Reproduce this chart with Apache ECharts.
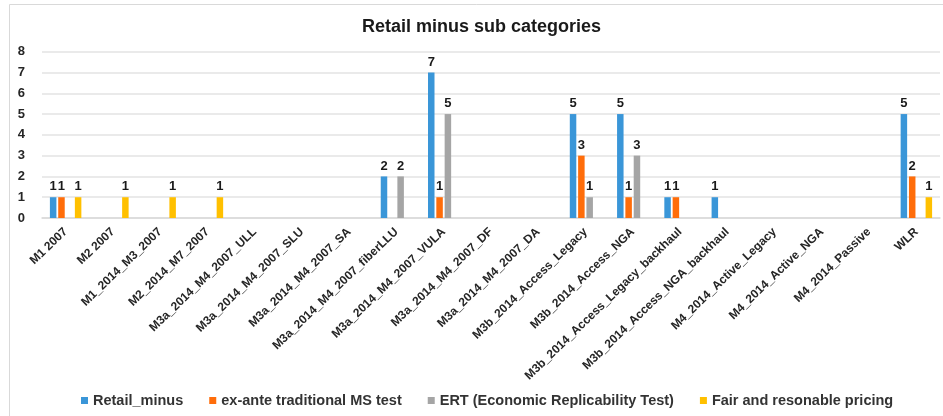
<!DOCTYPE html>
<html>
<head>
<meta charset="utf-8">
<script src="https://cdn.jsdelivr.net/npm/echarts@6/dist/echarts.min.js"></script>
<style>html,body{margin:0;padding:0;background:#fff}#c{width:943px;height:416px}</style>
</head>
<body>
<div id="c"></div>
<script>
var categories = ["M1 2007","M2 2007","M1_2014_M3_2007","M2_2014_M7_2007","M3a_2014_M4_2007_ULL","M3a_2014_M4_2007_SLU","M3a_2014_M4_2007_SA","M3a_2014_M4_2007_fiberLLU","M3a_2014_M4_2007_VULA","M3a_2014_M4_2007_DF","M3a_2014_M4_2007_DA","M3b_2014_Access_Legacy","M3b_2014_Access_NGA","M3b_2014_Access_Legacy_backhaul","M3b_2014_Access_NGA_backhaul","M4_2014_Active_Legacy","M4_2014_Active_NGA","M4_2014_Passive","WLR"];
var retailMinus = [1,null,null,null,null,null,null,2,7,null,null,5,5,1,1,null,null,null,5];
var exAnte      = [1,null,null,null,null,null,null,null,1,null,null,3,1,1,null,null,null,null,2];
var ert         = [null,null,null,null,null,null,null,2,5,null,null,1,3,null,null,null,null,null,null];
var fairPricing = [1,1,1,1,null,null,null,null,null,null,null,null,null,null,null,null,null,null,1];
var yTicks = [0,1,2,3,4,5,6,7,8];

var FONT = "'Liberation Sans', Arial, sans-serif";
function mk(name, data, color){
  return {
    name: name, type: 'bar', data: data, barWidth: 6.5, barGap: '28%',
    itemStyle: {color: color},
    label: {show: true, position: 'top', distance: 4, fontFamily: FONT, fontWeight: 'bold', fontSize: 13, color: '#1a1a1a'}
  };
}
var chart = echarts.init(document.getElementById('c'), null, {renderer: 'canvas'});
chart.setOption({
  animation: false,
  backgroundColor: '#fff',
  title: {text: 'Retail minus sub categories', left: 357, top: 13,
    textStyle: {fontFamily: FONT, fontWeight: 'bold', fontSize: 18, color: '#1a1a1a'}},
  graphic: [{type: 'rect', shape: {x: 9.5, y: 4.5, width: 940, height: 420}, style: {fill: 'none', stroke: '#d9d9d9', lineWidth: 1}, silent: true}],
  legend: {bottom: 3, left: 76, itemWidth: 7, itemHeight: 7, itemGap: 26, icon: 'rect',
    textStyle: {fontFamily: FONT, fontWeight: 'bold', fontSize: 14.5, color: '#333'}},
  grid: {left: 42, right: 3, top: 51.7, bottom: 198, containLabel: false},
  xAxis: {type: 'category', data: categories,
    axisLine: {lineStyle: {color: '#d9d9d9', width: 1.5}}, axisTick: {show: false},
    axisLabel: {interval: 0, rotate: 44, fontFamily: FONT, fontWeight: 'bold', fontSize: 12, color: '#262626', margin: 12}},
  yAxis: {type: 'value', min: 0, max: 8, interval: 1,
    axisLine: {show: false}, axisTick: {show: false},
    splitLine: {lineStyle: {color: '#e3e3e3', width: 1.5}},
    axisLabel: {fontFamily: FONT, fontWeight: 'bold', fontSize: 13, color: '#262626', margin: 17,
      formatter: function(v){ return yTicks.indexOf(v) >= 0 ? String(v) : ''; }}},
  series: [
    mk('Retail_minus', retailMinus, '#3A96D8'),
    mk('ex-ante traditional MS test', exAnte, '#FF6D0A'),
    mk('ERT (Economic Replicability Test)', ert, '#A5A5A5'),
    mk('Fair and resonable pricing', fairPricing, '#FFC000')
  ]
});
</script>
</body>
</html>
